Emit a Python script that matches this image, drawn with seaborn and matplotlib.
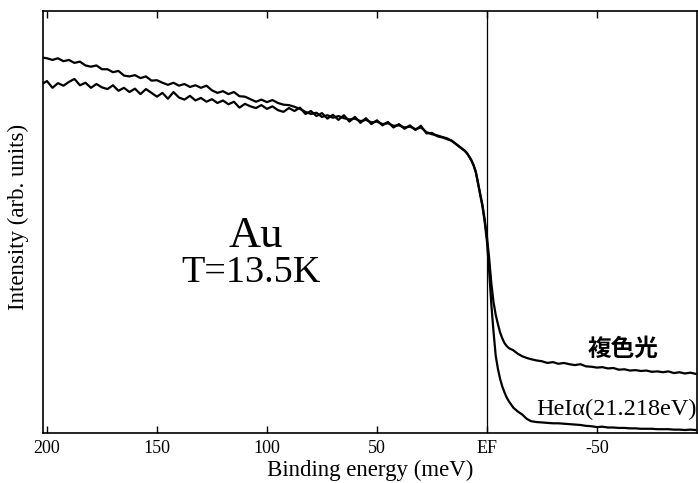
import numpy as np
import pandas as pd
import matplotlib
matplotlib.use("Agg")
import matplotlib.pyplot as plt
import seaborn as sns

# Binding energy grid (meV); positive = below the Fermi level
energy = [
    202.5, 200, 197.5, 195, 192.5, 190, 187.5, 185, 182.5, 180, 177.5, 175,
    172.5, 170, 167.5, 165, 162.5, 160, 157.5, 155, 152.5, 150, 147.5, 145,
    142.5, 140, 137.5, 135, 132.5, 130, 127.5, 125, 122.5, 120, 117.5, 115,
    112.5, 110, 107.5, 105, 102.5, 100, 97.5, 95, 92.5, 90, 87.5, 85,
    82.5, 80, 77.5, 75, 72.5, 70, 67.5, 65, 62.5, 60, 57.5, 55,
    52.5, 50, 47.5, 45, 42.5, 40, 37.5, 35, 32.5, 30, 27.5, 25, 22.5,
    20, 18, 16, 14, 12, 10, 9, 8, 7, 6, 5, 4, 3, 2, 1, 0,
    -1, -2, -3, -4, -5, -6, -7, -8, -9, -10, -12, -14, -16, -18, -20,
    -22.5, -25, -27.5, -30, -32.5, -35, -37.5, -40, -42.5, -45, -47.5, -50,
    -52.5, -55, -57.5, -60, -62.5, -65, -67.5, -70, -72.5, -75, -77.5, -80,
    -82.5, -85, -87.5, -90, -92.5, -95,
]

# Spectrum taken with the multi-colour (unmonochromatised) source
intensity_multi = [
    89.0, 88.8, 88.4, 88.8, 88.1, 88.4, 87.7, 88.0, 87.1, 86.8, 87.1, 86.2,
    86.2, 85.5, 85.8, 84.7, 84.5, 84.8, 84.1, 84.5, 83.5, 83.6, 83.0, 82.5,
    83.0, 82.3, 82.7, 82.0, 82.4, 81.8, 82.3, 81.2, 80.6, 81.0, 80.3, 80.8,
    79.8, 79.7, 79.1, 78.5, 79.0, 78.4, 78.9, 78.2, 77.8, 77.7, 77.3, 76.8,
    76.1, 75.6, 75.9, 74.9, 75.3, 74.7, 75.1, 74.6, 74.3, 74.5, 73.9, 74.2,
    73.6, 73.8, 73.2, 73.4, 72.8, 72.9, 72.4, 72.6, 72.0, 72.4, 71.3, 70.8, 70.5,
    70.1, 69.8, 69.2, 68.5, 67.7, 66.8, 66.2, 65.5, 64.6, 63.4, 61.8, 59.0, 56.5, 54.0, 50.5, 46.5,
    41.5, 35.5, 31.0, 28.0, 25.8, 23.8, 22.4, 21.3, 20.6, 20.1, 19.6, 18.8, 18.2, 17.8, 17.5,
    17.2, 17.0, 16.6, 16.8, 16.4, 16.6, 16.3, 16.1, 16.3, 15.8, 15.7, 15.5,
    15.6, 15.3, 15.4, 15.0, 15.1, 14.8, 14.9, 14.7, 14.8, 14.5, 14.6, 14.4,
    14.6, 14.2, 14.4, 14.1, 14.3, 14.0,
]

# Spectrum taken with the monochromatised He I alpha line
intensity_hei = [
    82.6, 83.4, 81.8, 82.9, 82.3, 83.2, 83.9, 82.4, 83.0, 81.8, 82.7, 81.9,
    81.5, 82.4, 81.1, 81.8, 80.8, 81.6, 80.3, 81.5, 80.6, 79.7, 80.6, 79.2,
    80.8, 79.5, 79.0, 79.9, 78.8, 79.4, 78.5, 79.1, 78.2, 78.8, 77.9, 78.5,
    77.1, 78.0, 77.4, 77.0, 77.7, 76.8, 77.4, 76.5, 76.1, 77.0, 76.3, 77.1,
    75.6, 76.3, 75.1, 75.8, 74.5, 75.4, 74.2, 75.3, 73.8, 74.9, 73.5, 74.6,
    73.2, 74.1, 72.9, 73.7, 72.4, 73.2, 72.1, 72.9, 71.8, 72.8, 71.0, 71.1, 70.3,
    70.0, 69.6, 69.3, 68.4, 67.6, 66.9, 66.3, 65.4, 64.5, 63.3, 61.7, 59.2, 56.3, 53.6, 50.0, 45.5,
    38.5, 30.5, 24.0, 18.3, 15.2, 12.8, 11.0, 9.6, 8.4, 7.5, 6.0, 5.1, 4.4, 3.4, 2.8,
    2.6, 2.5, 2.4, 2.3, 2.3, 2.2, 2.1, 2.0, 1.9, 1.7, 1.6, 1.4,
    1.5, 1.3, 1.3, 1.2, 1.2, 1.1, 1.1, 1.0, 1.0, 1.0, 0.9, 0.9,
    0.9, 0.8, 0.8, 0.7, 0.8, 0.7,
]

tick_values = [200, 150, 100, 50, 0, -50]
tick_labels = ["200", "150", "100", "50", "EF", "-50"]

sns.set_theme(style="ticks")
plt.rcParams["font.family"] = ["Liberation Serif", "Noto Sans CJK JP"]
plt.rcParams.update({
    "axes.edgecolor": "black",
    "axes.linewidth": 1.2,
    "text.color": "black",
    "axes.labelcolor": "black",
    "xtick.color": "black",
    "ytick.color": "black",
})

df = pd.DataFrame({
    "energy": energy * 2,
    "intensity": intensity_multi + intensity_hei,
    "source": ["multi"] * len(energy) + ["hei"] * len(energy),
})

fig = plt.figure(figsize=(6.98, 4.83), dpi=100)
ax = fig.add_axes([43 / 698, 50 / 483, 654 / 698, 422 / 483])

sns.lineplot(data=df, x="energy", y="intensity", units="source",
             estimator=None, color="black", linewidth=1.6, ax=ax, legend=False)

ax.axvline(0, color="black", linewidth=0.9)

ax.set_xlim(201.8, -95.5)
ax.set_ylim(0, 100)
ax.set_xticks(tick_values)
ax.set_xticklabels(tick_labels)
ax.set_yticks([])
ax.tick_params(axis="x", direction="in", top=True, bottom=True,
               length=5, width=1.0, labelsize=13, pad=5)

ax.set_xlabel("Binding energy (meV)", fontsize=16.5, labelpad=2)
ax.set_ylabel("Intensity (arb. units)", fontsize=16.5)
ax.yaxis.set_label_coords(-0.021, 0.512)

ax.text(0.325, 0.468, "Au", transform=ax.transAxes, fontsize=32,
        ha="center", va="center")
ax.text(0.318, 0.38, "T=13.5K", transform=ax.transAxes, fontsize=27.5,
        ha="center", va="center")
ax.text(-62, 20.0, "複色光", fontsize=17, fontweight="bold",
        family=["Noto Sans CJK JP"], ha="center", va="center")
ax.text(-95.3, 5.6, "HeIα(21.218eV)", fontsize=17.5, ha="right", va="center")

for s in ax.spines.values():
    s.set_visible(True)
    s.set_color("black")

fig.savefig("out.png", dpi=100, facecolor="white")
